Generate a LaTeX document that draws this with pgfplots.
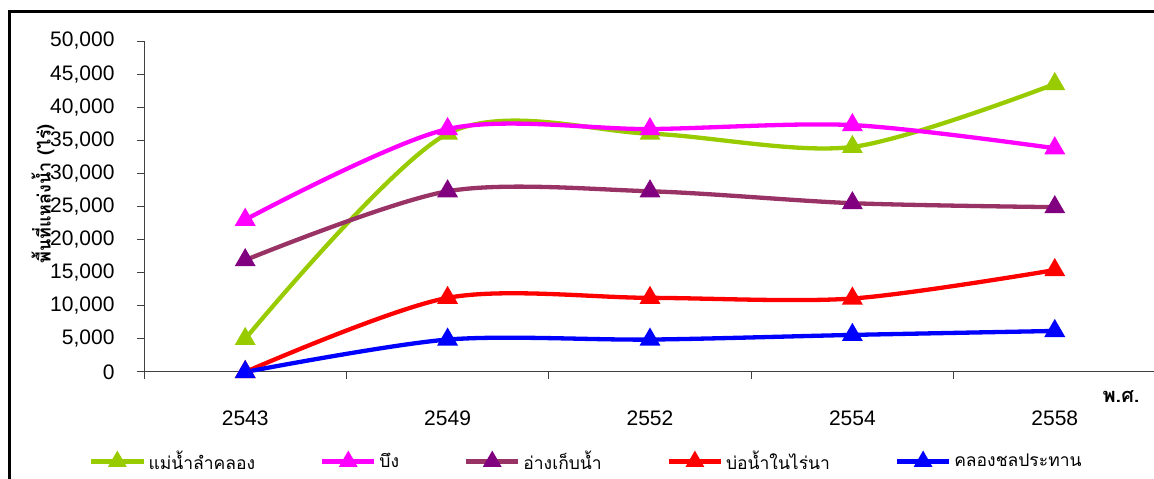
\documentclass[border=0pt]{standalone}
\usepackage{pgfplots}
\pgfplotsset{compat=1.18}
\usepackage{pgfplotstable}
\usepackage{fontspec}
\setmainfont{Liberation Sans}
\newfontfamily\thaifont[Script=Thai]{Loma}
\definecolor{cgreen}{HTML}{99CC00}
\definecolor{cmag}{HTML}{FF00FF}
\definecolor{cpurl}{HTML}{993366}
\definecolor{cpurm}{HTML}{800080}
\definecolor{cred}{HTML}{FF0000}
\definecolor{cblue}{HTML}{0000FF}
\definecolor{caxis}{HTML}{404040}
\pgfplotstableread{
x  g      m      p      r      b
0  5000   23000  16900  0      0
1  36000  36700  27300  11200  4900
2  36000  36700  27300  11200  4900
3  34000  37300  25500  11100  5600
4  43500  33800  24900  15400  6200
}\datatable
\begin{document}
\begin{tikzpicture}
\path[use as bounding box] (0pt,0pt) rectangle (1154pt,479pt);
\draw[line width=3pt,black] (9pt,-5pt) -- (9pt,467pt) -- (1160pt,467pt);
\begin{axis}[
  at={(144pt,107pt)}, anchor=south west,
  scale only axis, width=1012pt, height=331pt,
  xmin=-0.5, xmax=4.5, ymin=0, ymax=50000,
  axis lines=left, axis line style={caxis,line width=1pt,-},
  clip=false,
  xtick={0,1,2,3,4},
  xticklabels={2543,2549,2552,2554,2558},
  minor xtick={-0.5,0.5,1.5,2.5,3.5,4.5},
  ytick={0,5000,...,50000},
  tick align=outside,
  major x tick style={draw=none},
  minor tick length=7pt, major tick length=7pt,
  every tick/.style={caxis,line width=1pt},
  scaled y ticks=false,
  /pgf/number format/.cd, 1000 sep={,}, assume math mode=true, /pgfplots/.cd,
  tick label style={font=\fontsize{21}{25}\selectfont},
  xticklabel style={anchor=base, yshift=-46pt},
  yticklabel style={anchor=east, xshift=-19pt},
  legend style={draw=none, fill=none, at={(-58/1012, -0.27)}, anchor=west,
    legend columns=5, font=\thaifont\fontsize{17.5}{21}\selectfont,
    /tikz/every even column/.append style={column sep=62pt},
    nodes={inner xsep=3pt}},
  legend cell align=left,
  legend image code/.code={\draw[mark repeat=2,mark phase=2,mark size=6.5pt] plot coordinates {(0pt,0pt) (26pt,0pt) (52pt,0pt)};},
  every axis plot/.append style={line width=4.3pt, smooth, mark=triangle*, mark size=7.8pt, mark options={solid,line width=0pt}},
]
\addplot[color=cgreen, mark options={fill=cgreen,draw=cgreen}] table[x=x,y=g] {\datatable};
\addlegendentry{แม่น้ำลำคลอง}
\addplot[color=cmag, mark options={fill=cmag,draw=cmag}] table[x=x,y=m] {\datatable};
\addlegendentry{บึง}
\addplot[color=cpurl, mark options={fill=cpurm,draw=cpurm}] table[x=x,y=p] {\datatable};
\addlegendentry{อ่างเก็บน้ำ}
\addplot[color=cred, mark options={fill=cred,draw=cred}] table[x=x,y=r] {\datatable};
\addlegendentry{บ่อน้ำในไร่นา}
\addplot[color=cblue, mark options={fill=cblue,draw=cblue}] table[x=x,y=b] {\datatable};
\addlegendentry{คลองชลประทาน}
\end{axis}
\node[rotate=90, font=\thaifont\bfseries\fontsize{18}{22}\selectfont] at (43pt,285pt) {พื้นที่แหล่งน้ำ (ไร่)};
\node[font=\thaifont\bfseries\fontsize{20}{24}\selectfont] at (1121pt,82pt) {พ.ศ.};
\end{tikzpicture}
\end{document}
